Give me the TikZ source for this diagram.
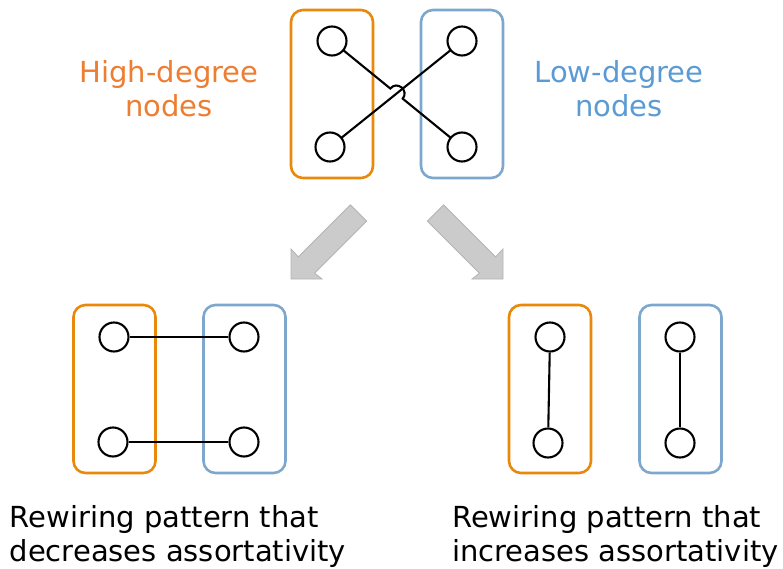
\documentclass[tikz,border=0pt]{standalone}
\usepackage{fontspec}
\setmainfont{DejaVu Sans}
\usetikzlibrary{calc}
\definecolor{boxorange}{HTML}{E8890C}
\definecolor{boxblue}{HTML}{7EA7CE}
\definecolor{txtorange}{HTML}{ED7D31}
\definecolor{txtblue}{HTML}{5B9BD5}
\definecolor{arrowfill}{HTML}{CBCBCB}
\definecolor{arrowline}{HTML}{B4B4B4}
\tikzset{
  x=1pt, y=-1pt,
  grp/.style={draw, line width=2.6pt, rounded corners=12pt, minimum width=82pt, minimum height=168pt, inner sep=0pt},
  ogrp/.style={grp, draw=boxorange},
  bgrp/.style={grp, draw=boxblue},
  vtx/.style={circle, draw=black, line width=2.1pt, minimum size=29pt, inner sep=0pt, fill=white},
  edge/.style={draw=black, line width=2.1pt},
  lbl/.style={font=\fontsize{29pt}{34pt}\selectfont, align=center, inner sep=0pt},
  caption/.style={font=\fontsize{29pt}{34pt}\selectfont, align=left, inner sep=0pt, anchor=base west},
  blockarrow/.style={fill=arrowfill, draw=arrowline, line width=0.8pt, line join=miter}
}
\begin{document}
\begin{tikzpicture}
\useasboundingbox (0,0) rectangle (783,569);
% top groups
\node[ogrp] (tog) at (332,94) {};
\node[bgrp] (tbg) at (462,94) {};
\node[lbl, text=txtorange, anchor=base] (hdl) at (169,117) {High-degree\\nodes};
\node[lbl, text=txtblue, anchor=base] (ldl) at (619,117) {Low-degree\\nodes};
% top edges
\coordinate (X) at (396.5,93.6);
\coordinate (tla) at (332,41);
\coordinate (bra) at (462,147);
\coordinate (P1) at ($(X)!8pt!(tla)$);
\coordinate (P2) at ($(X)!8pt!(bra)$);
\coordinate (C1) at ($(P1)!10.6pt!90:(X)$);
\coordinate (C2) at ($(P2)!10.6pt!-90:(X)$);
\draw[edge] (330,147) coordinate (bla) -- (462,41) coordinate (tra);
\draw[edge] (tla) -- (P1) .. controls (C1) and (C2) .. (P2) -- (bra);
\node[vtx] (t1) at (tla) {};
\node[vtx] (t2) at (bla) {};
\node[vtx] (t3) at (tra) {};
\node[vtx] (t4) at (bra) {};
% block arrows
\draw[blockarrow] (350.4,204.9) -- (298.4,256.9) -- (291,249) -- (291,279) -- (322,279) -- (314.6,273.1) -- (366.6,221.1) -- cycle;
\draw[blockarrow] (443.6,204.9) -- (495.6,256.9) -- (503,249) -- (503,279) -- (472,279) -- (479.4,273.1) -- (427.4,221.1) -- cycle;
% bottom left
\node[ogrp] (log) at (114.5,389) {};
\node[bgrp] (lbg) at (244.5,389) {};
\node[vtx] (l1) at (114,337) {};
\node[vtx] (l2) at (244,337) {};
\node[vtx] (l3) at (113,442) {};
\node[vtx] (l4) at (244,442) {};
\draw[edge] (l1) -- (l2);
\draw[edge] (l3) -- (l4);
% bottom right
\node[ogrp] (rog) at (550,389) {};
\node[bgrp] (rbg) at (680.5,389) {};
\node[vtx] (r1) at (550,337) {};
\node[vtx] (r2) at (548,443) {};
\node[vtx] (r3) at (680,337) {};
\node[vtx] (r4) at (680,443) {};
\draw[edge] (r1) -- (r2);
\draw[edge] (r3) -- (r4);
% captions
\node[caption] (capl) at (9.5,561) {Rewiring pattern that\\decreases assortativity};
\node[caption] (capr) at (452,561) {Rewiring pattern that\\increases assortativity};
\end{tikzpicture}
\end{document}
